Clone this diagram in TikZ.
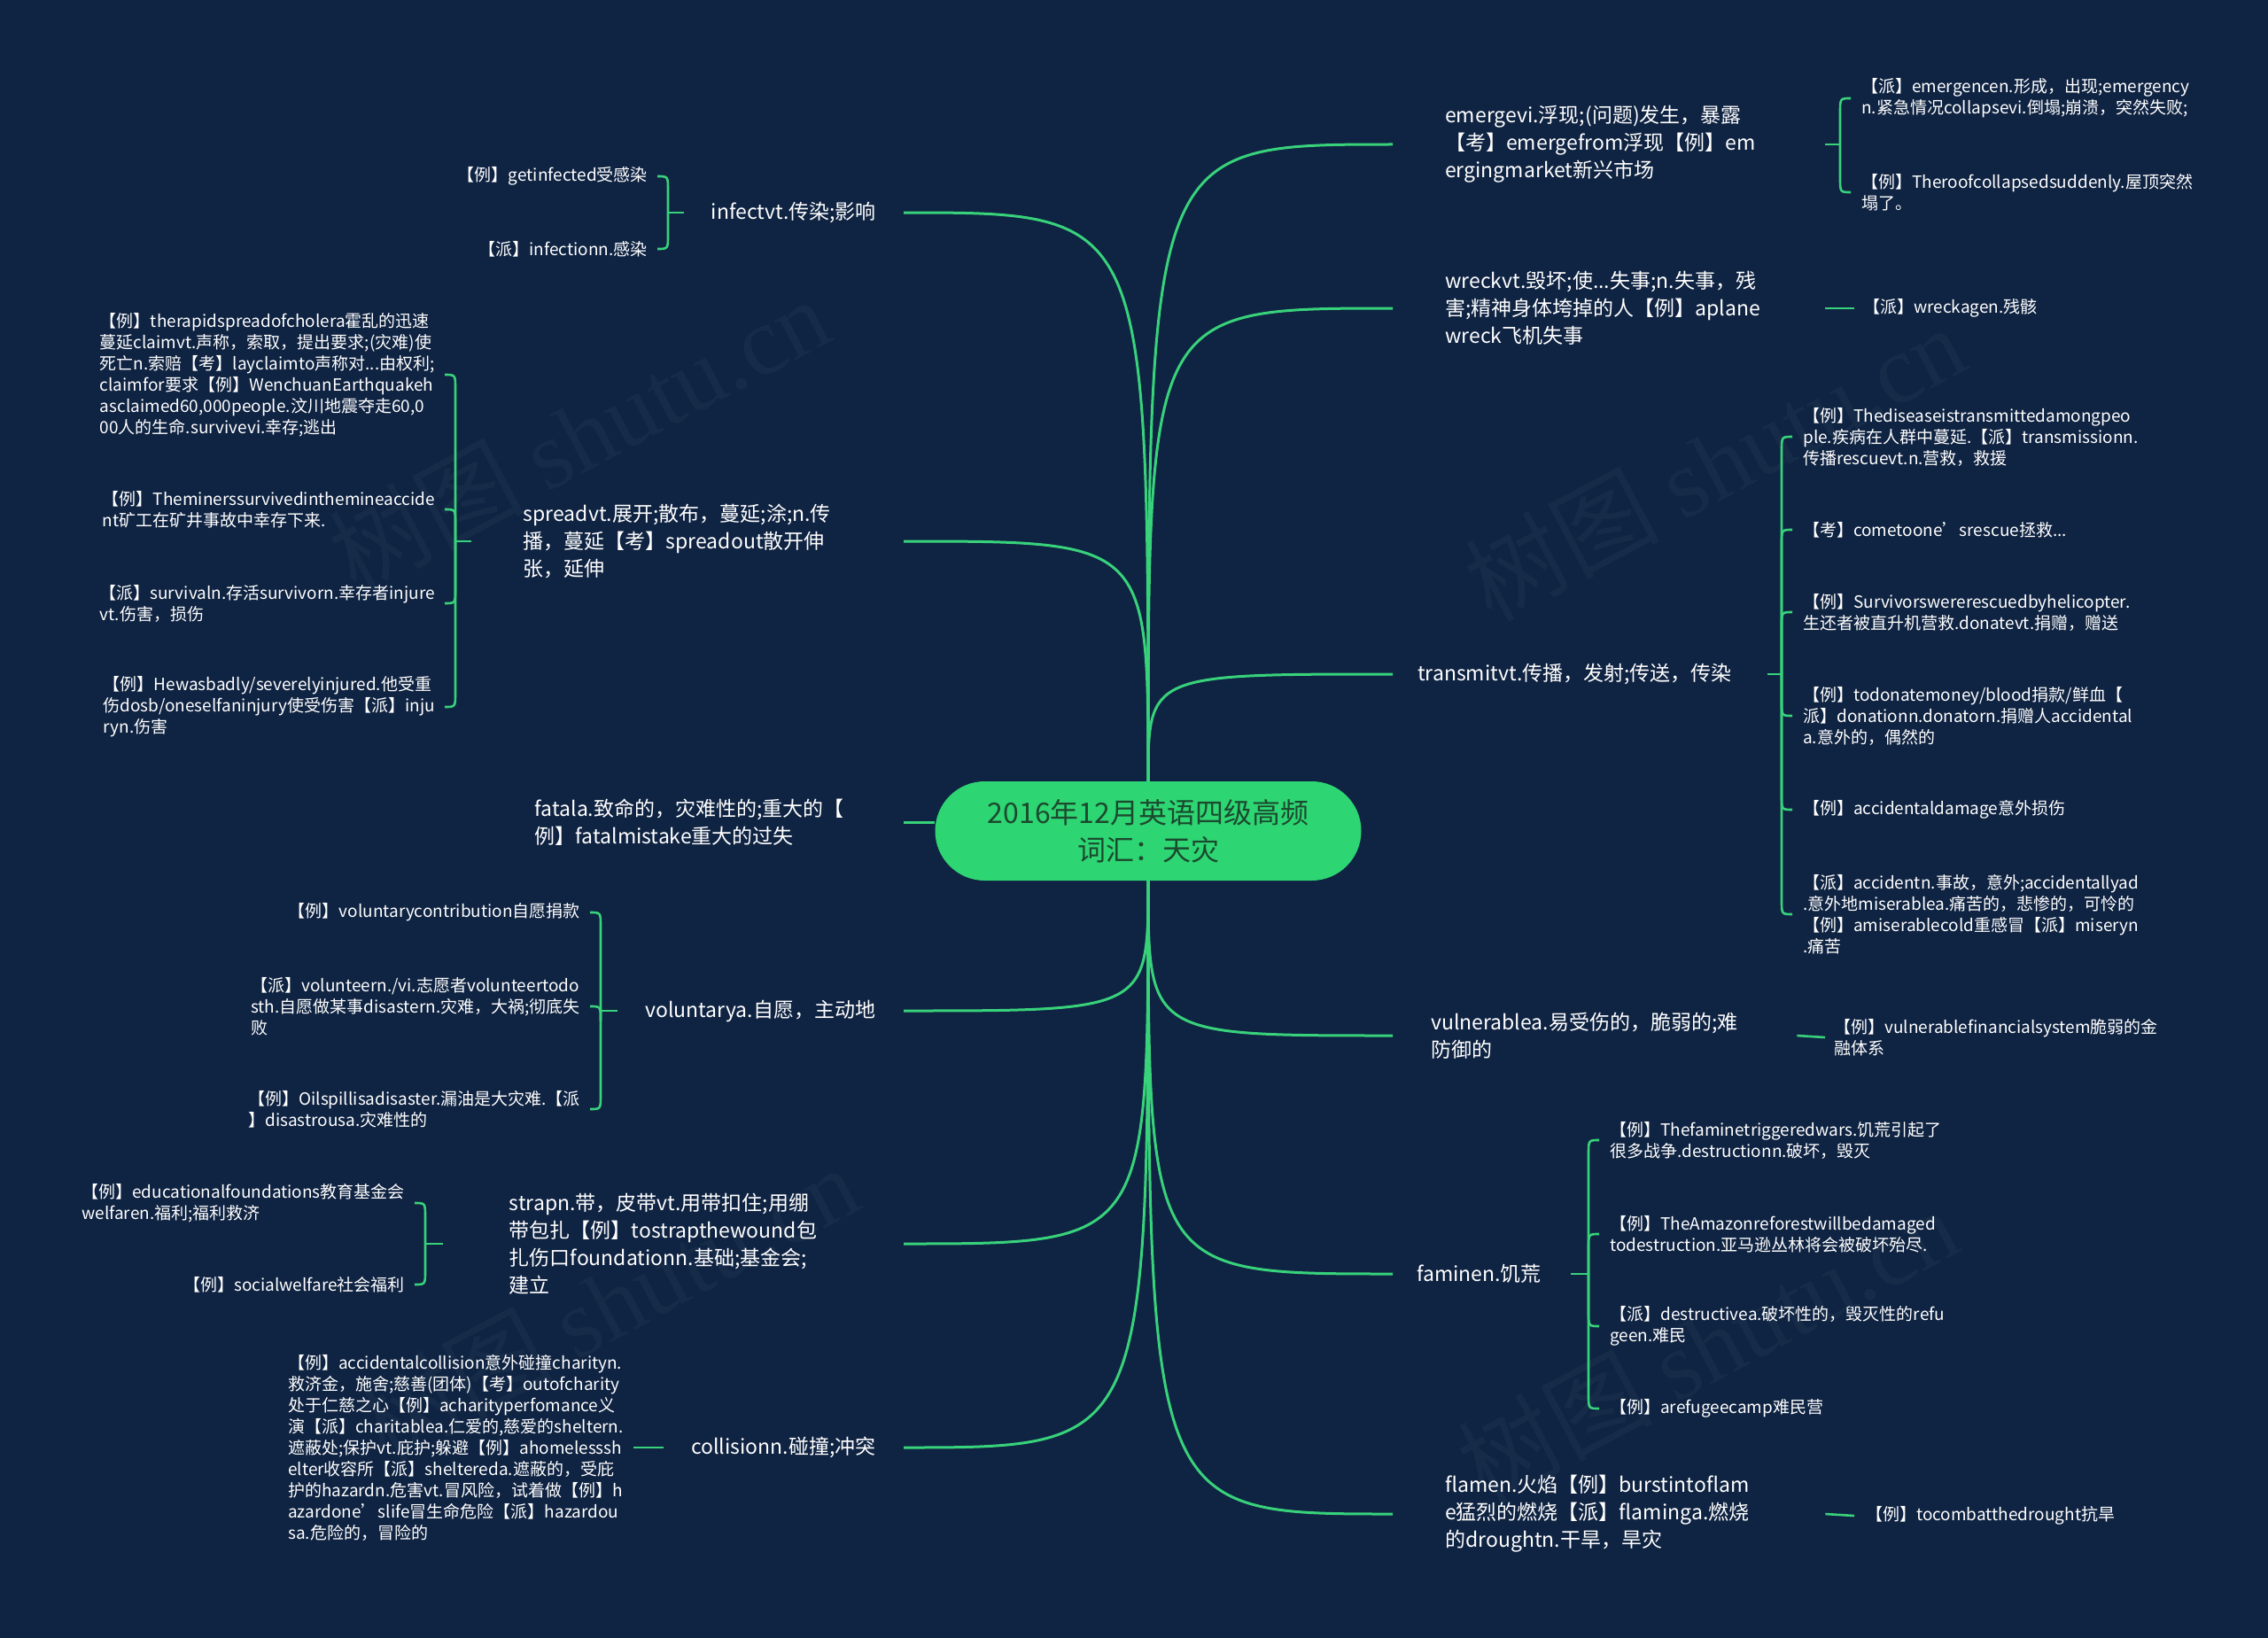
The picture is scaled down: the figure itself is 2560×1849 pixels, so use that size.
\documentclass[tikz,border=0pt]{standalone}
\usepackage{fontspec}
\setmainfont{Noto Sans CJK SC}
\newfontfamily\wmfont{Liberation Serif}
\usetikzlibrary{calc}
\definecolor{bg}{HTML}{0F2342}
\definecolor{lc}{HTML}{38D27B}
\definecolor{cfill}{HTML}{2ED573}
\definecolor{ctext}{HTML}{1B4A2E}
\definecolor{wm}{HTML}{162B48}
\newcommand\hookto[2]{\draw[leafline] let \p1=(#1), \p2=(#2) in (\p1) -- (\x1,{\y2+16pt*sign(\y1-\y2)}) .. controls (\x1,\y2) .. (\p2);}
\begin{document}
\begin{tikzpicture}[x=1pt,y=-1pt,
  mainline/.style={draw=lc, line width=3pt},
  leafline/.style={draw=lc, line width=2.6pt},
  centre/.style={fill=cfill, draw=none, rounded corners=56pt, minimum width=481pt, minimum height=112pt, align=center, text=ctext, font=\fontsize{32}{42}\selectfont},
  branch/.style={text=white, font=\fontsize{23}{31}\selectfont, inner ysep=4pt},
  bl/.style={branch, anchor=east},
  br/.style={branch, anchor=west},
  leaf/.style={text=white, font=\fontsize{19}{24}\selectfont, align=left, inner ysep=3pt},
  ll/.style={leaf, anchor=east, inner xsep=11pt},
  lr/.style={leaf, anchor=west, inner xsep=12pt},
  wmark/.style={text=wm, font=\fontsize{110}{110}\selectfont, rotate=28, inner sep=0pt}
  ]
\useasboundingbox (0,0) rectangle (2560,1849);
\fill[bg] (0,0) rectangle (2560,1849);
% watermarks
\node[wmark] (wm1) at (653,490) {树图 {\wmfont shutu.cn}};
\node[wmark] (wm2) at (1935,522) {树图 {\wmfont shutu.cn}};
\node[wmark] (wm3) at (686,1470) {树图 {\wmfont shutu.cn}};
\node[wmark] (wm4) at (1927,1518) {树图 {\wmfont shutu.cn}};
% centre
\node[centre] (ctr) at (1296,938) {2016年12月英语四级高频\\词汇：天灾};
% left branches
\node[bl, inner xsep=27pt, text width=194pt, align=center] (infect) at (1020,240) {infectvt.传染;影响};
\node[bl, inner xsep=59pt, text width=370pt, align=left] (spread) at (1020,611) {spreadvt.展开;散布，蔓延;涂;n.传\\播，蔓延【考】spreadout散开伸\\张，延伸};
\node[bl, inner xsep=54pt, text width=362pt, align=left] (fatal) at (1020,928) {fatala.致命的，灾难性的;重大的【\\例】fatalmistake重大的过失};
\node[bl, inner xsep=27pt, text width=269pt, align=center] (voluntary) at (1020,1141) {voluntarya.自愿，主动地};
\node[bl, inner xsep=75pt, text width=370pt, align=left] (strap) at (1020,1404) {strapn.带，皮带vt.用带扣住;用绷\\带包扎【例】tostrapthewound包\\扎伤口foundationn.基础;基金会;\\建立};
\node[bl, inner xsep=27pt, text width=217pt, align=center] (collision) at (1020,1634) {collisionn.碰撞;冲突};
% right branches
\node[br, inner xsep=59pt, text width=370pt, align=left] (emerge) at (1572,163) {emergevi.浮现;(问题)发生，暴露\\【考】emergefrom浮现【例】em\\ergingmarket新兴市场};
\node[br, inner xsep=59pt, text width=370pt, align=left] (wreck) at (1572,348) {wreckvt.毁坏;使...失事;n.失事，残\\害;精神身体垮掉的人【例】aplane\\wreck飞机失事};
\node[br, inner xsep=28pt, text width=367pt, align=left] (transmit) at (1572,761) {transmitvt.传播，发射;传送，传染};
\node[br, inner xsep=43pt, text width=370pt, align=left] (vulnerable) at (1572,1169) {vulnerablea.易受伤的，脆弱的;难\\防御的};
\node[br, inner xsep=27pt, text width=147pt, align=left] (famine) at (1572,1438) {faminen.饥荒};
\node[br, inner xsep=59pt, text width=370pt, align=left] (flame) at (1572,1709) {flamen.火焰【例】burstintoflam\\e猛烈的燃烧【派】flaminga.燃烧\\的droughtn.干旱，旱灾};
% main connectors
\draw[mainline] (ctr.north) .. controls (ctr.north |- infect.east) .. (infect.east);
\draw[mainline] (ctr.north) .. controls (ctr.north |- spread.east) .. (spread.east);
\draw[mainline] (fatal.east) -- (fatal.east -| ctr.west);
\draw[mainline] (ctr.south) .. controls (ctr.south |- voluntary.east) .. (voluntary.east);
\draw[mainline] (ctr.south) .. controls (ctr.south |- strap.east) .. (strap.east);
\draw[mainline] (ctr.south) .. controls (ctr.south |- collision.east) .. (collision.east);
\draw[mainline] (ctr.north) .. controls (ctr.north |- emerge.west) .. (emerge.west);
\draw[mainline] (ctr.north) .. controls (ctr.north |- wreck.west) .. (wreck.west);
\draw[mainline] (ctr.north) .. controls (ctr.north |- transmit.west) .. (transmit.west);
\draw[mainline] (ctr.south) .. controls (ctr.south |- vulnerable.west) .. (vulnerable.west);
\draw[mainline] (ctr.south) .. controls (ctr.south |- famine.west) .. (famine.west);
\draw[mainline] (ctr.south) .. controls (ctr.south |- flame.west) .. (flame.west);
% brace points
\coordinate (infB) at (754,240);
\coordinate (sprB) at (514,611);
\coordinate (volB) at (678,1141);
\coordinate (strB) at (480,1404);
\coordinate (emeB) at (2077,163);
\coordinate (traB) at (2011,761);
\coordinate (famB) at (1793,1438);
% left leaves
\node[ll] (il1) at (742,199) {【例】getinfected受感染};
\node[ll] (il2) at (742,281) {【派】infectionn.感染};
\node[ll] (sl1) at (502,423) {【例】therapidspreadofcholera霍乱的迅速\\蔓延claimvt.声称，索取，提出要求;(灾难)使\\死亡n.索赔【考】layclaimto声称对...由权利;\\claimfor要求【例】WenchuanEarthquakeh\\asclaimed60,000people.汶川地震夺走60,0\\00人的生命.survivevi.幸存;逃出};
\node[ll] (sl2) at (502,575) {【例】Theminerssurvivedinthemineaccide\\nt矿工在矿井事故中幸存下来.};
\node[ll] (sl3) at (502,681) {【派】survivaln.存活survivorn.幸存者injure\\vt.伤害，损伤};
\node[ll] (sl4) at (502,798) {【例】Hewasbadly/severelyinjured.他受重\\伤dosb/oneselfaninjury使受伤害【派】inju\\ryn.伤害};
\node[ll] (vl1) at (666,1030) {【例】voluntarycontribution自愿捐款};
\node[ll] (vl2) at (666,1136) {【派】volunteern./vi.志愿者volunteertodo\\sth.自愿做某事disastern.灾难，大祸;彻底失\\败};
\node[ll] (vl3) at (666,1252) {【例】Oilspillisadisaster.漏油是大灾难.【派\\】disastrousa.灾难性的};
\node[ll] (tl1) at (468,1358) {【例】educationalfoundations教育基金会\\welfaren.福利;福利救济};
\node[ll] (tl2) at (468,1450) {【例】socialwelfare社会福利};
\node[ll] (cl1) at (715,1634) {【例】accidentalcollision意外碰撞charityn.\\救济金，施舍;慈善(团体)【考】outofcharity\\处于仁慈之心【例】acharityperfomance义\\演【派】charitablea.仁爱的,慈爱的sheltern.\\遮蔽处;保护vt.庇护;躲避【例】ahomelesssh\\elter收容所【派】sheltereda.遮蔽的，受庇\\护的hazardn.危害vt.冒风险，试着做【例】h\\azardone’slife冒生命危险【派】hazardou\\sa.危险的，冒险的};
% right leaves
\node[lr] (el1) at (2089,111) {【派】emergencen.形成，出现;emergency\\n.紧急情况collapsevi.倒塌;崩溃，突然失败;};
\node[lr] (el2) at (2089,217) {【例】Theroofcollapsedsuddenly.屋顶突然\\塌了。};
\node[lr, inner xsep=10pt] (wl1) at (2093,348) {【派】wreckagen.残骸};
\node[lr] (rl1) at (2023,493) {【例】Thediseaseistransmittedamongpeo\\ple.疾病在人群中蔓延.【派】transmissionn.\\传播rescuevt.n.营救，救援};
\node[lr] (rl2) at (2023,598) {【考】cometoone’srescue拯救...};
\node[lr] (rl3) at (2023,691) {【例】Survivorswererescuedbyhelicopter.\\生还者被直升机营救.donatevt.捐赠，赠送};
\node[lr] (rl4) at (2023,808) {【例】todonatemoney/blood捐款/鲜血【\\派】donationn.donatorn.捐赠人accidental\\a.意外的，偶然的};
\node[lr] (rl5) at (2023,914) {【例】accidentaldamage意外损伤};
\node[lr] (rl6) at (2023,1032) {【派】accidentn.事故，意外;accidentallyad\\.意外地miserablea.痛苦的，悲惨的，可怜的\\【例】amiserablecold重感冒【派】miseryn\\.痛苦};
\node[lr, inner xsep=10pt] (ul1) at (2060,1171) {【例】vulnerablefinancialsystem脆弱的金\\融体系};
\node[lr] (fl1) at (1805,1287) {【例】Thefaminetriggeredwars.饥荒引起了\\很多战争.destructionn.破坏，毁灭};
\node[lr] (fl2) at (1805,1393) {【例】TheAmazonreforestwillbedamaged\\todestruction.亚马逊丛林将会被破坏殆尽.};
\node[lr] (fl3) at (1805,1497) {【派】destructivea.破坏性的，毁灭性的refu\\geen.难民};
\node[lr] (fl4) at (1805,1590) {【例】arefugeecamp难民营};
\node[lr, inner xsep=13pt] (ml1) at (2093,1711) {【例】tocombatthedrought抗旱};
% stems
\draw[leafline] (infect.west) -- (infB);
\draw[leafline] (spread.west) -- (sprB);
\draw[leafline] (voluntary.west) -- (volB);
\draw[leafline] (strap.west) -- (strB);
\draw[leafline] (collision.west) -- (cl1.east);
\draw[leafline] (emerge.east) -- (emeB);
\draw[leafline] (wreck.east) -- (wl1.west);
\draw[leafline] (transmit.east) -- (traB);
\draw[leafline] (vulnerable.east) -- (ul1.west);
\draw[leafline] (famine.east) -- (famB);
\draw[leafline] (flame.east) -- (ml1.west);
% braces
\hookto{infB}{il1.east}\hookto{infB}{il2.east}
\hookto{sprB}{sl1.east}\hookto{sprB}{sl2.east}\hookto{sprB}{sl3.east}\hookto{sprB}{sl4.east}
\hookto{volB}{vl1.east}\hookto{volB}{vl2.east}\hookto{volB}{vl3.east}
\hookto{strB}{tl1.east}\hookto{strB}{tl2.east}
\hookto{emeB}{el1.west}\hookto{emeB}{el2.west}
\hookto{traB}{rl1.west}\hookto{traB}{rl2.west}\hookto{traB}{rl3.west}\hookto{traB}{rl4.west}\hookto{traB}{rl5.west}\hookto{traB}{rl6.west}
\hookto{famB}{fl1.west}\hookto{famB}{fl2.west}\hookto{famB}{fl3.west}\hookto{famB}{fl4.west}
\end{tikzpicture}
\end{document}
